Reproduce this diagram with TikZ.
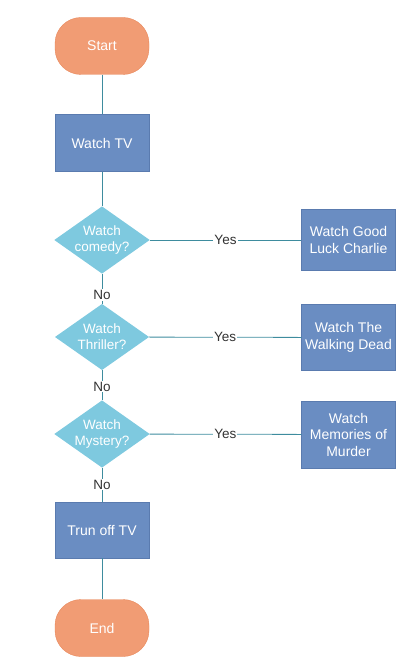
\documentclass[tikz,border=0pt]{standalone}
\usepackage{fontspec}
\setmainfont{Liberation Sans}
\usetikzlibrary{shapes.geometric}
\definecolor{termfill}{HTML}{F19C74}
\definecolor{termline}{HTML}{E8875A}
\definecolor{boxfill}{HTML}{6A8DC2}
\definecolor{boxline}{HTML}{5A7BAF}
\definecolor{diafill}{HTML}{7EC9DF}
\definecolor{conn}{HTML}{3E8C9E}
\definecolor{lbl}{HTML}{333333}
\tikzset{
  terminal/.style={draw=termline, fill=termfill, rounded corners=26pt, minimum width=94pt, minimum height=57pt, text=white, font=\fontsize{14}{16}\selectfont, inner sep=0pt},
  procbox/.style={draw=boxline, fill=boxfill, minimum width=94pt, text=white, font=\fontsize{14}{16.5}\selectfont, align=center, inner sep=0pt},
  decision/.style={diamond, fill=diafill, aspect=1.42, minimum width=94pt, minimum height=66pt, inner sep=0pt, outer sep=0pt, text=white, font=\fontsize{13.5}{16}\selectfont, align=center},
  connector/.style={draw=conn, line width=0.8pt},
  edgelabel/.style={fill=white, text=lbl, font=\fontsize{13.5}{15}\selectfont, inner sep=1pt}
}
\begin{document}
\begin{tikzpicture}[x=1pt, y=-1pt]
\useasboundingbox (0,0) rectangle (417,668);
\node[terminal] (start) at (102,46) {Start};
\node[procbox, minimum height=57pt] (tv) at (102,143) {Watch TV};
\node[decision] (d1) at (102,240) {Watch\\comedy?};
\node[decision] (d2) at (102,337) {Watch\\Thriller?};
\node[decision, minimum height=62pt] (d3) at (102,434) {Watch\\Mystery?};
\node[procbox, minimum height=61pt] (b1) at (348.5,240) {Watch Good\\Luck Charlie};
\node[procbox, minimum height=66pt] (b2) at (348.5,337.5) {Watch The\\Walking Dead};
\node[procbox, minimum height=67pt] (b3) at (348.5,434.5) {Watch\\Memories of\\Murder};
\node[procbox, minimum height=56pt] (off) at (102,530) {Trun off TV};
\node[terminal] (end) at (102,628) {End};
\draw[connector] (start) -- (tv);
\draw[connector] (tv) -- (d1);
\draw[connector] (d1) -- node[edgelabel, pos=0.7] {No} (d2);
\draw[connector] (d2) -- node[edgelabel, pos=0.55] {No} (d3);
\draw[connector] (d3) -- node[edgelabel, pos=0.5] {No} (off);
\draw[connector] (off) -- (end);
\draw[connector] (d1) -- node[edgelabel, pos=0.5] {Yes} (b1);
\draw[connector] (d2) -- node[edgelabel, pos=0.5] {Yes} (b2);
\draw[connector] (d3) -- node[edgelabel, pos=0.5] {Yes} (b3);
\end{tikzpicture}
\end{document}
